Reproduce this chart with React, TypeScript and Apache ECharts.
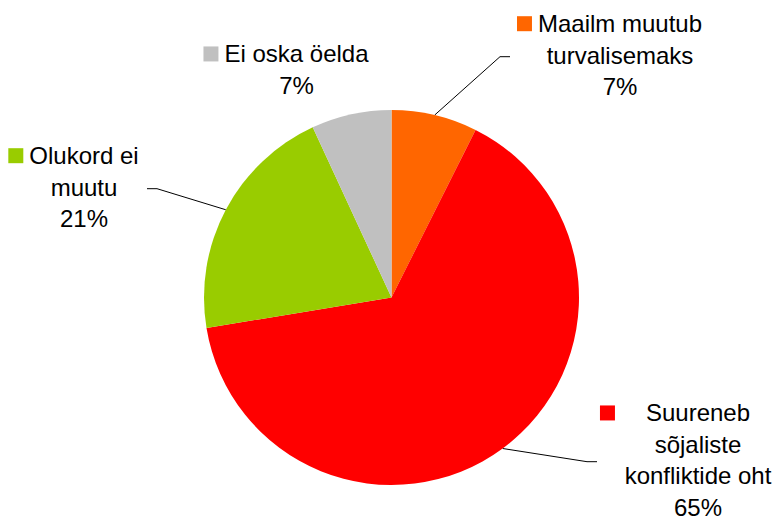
import React, { useEffect, useRef } from "react";
import * as echarts from "echarts";

const categories = [
  "Maailm muutub turvalisemaks",
  "Suureneb sõjaliste konfliktide oht",
  "Olukord ei muutu",
  "Ei oska öelda",
];
const labelLines = [
  ["Maailm muutub", "turvalisemaks"],
  ["Suureneb", "sõjaliste", "konfliktide oht"],
  ["Olukord ei", "muutu"],
  ["Ei oska öelda"],
];
const values = [7.4, 65.0, 20.7, 6.9];
const colors = ["#FF6600", "#FF0000", "#99CC00", "#C0C0C0"];

const FONT = "'Liberation Sans', Arial, Helvetica, sans-serif";
const LH = 31.5;
const KEY = 15;
// label layout: text center x, block middle y, gap between key and text, leader end x
const LAYOUT = [
  { x: 620, y: 55.2, gap: 6, lineEnd: 510, side: 1 },
  { x: 698, y: 460.2, gap: 31, lineEnd: 597, side: 1 },
  { x: 84, y: 187.2, gap: 6, lineEnd: 147, side: -1 },
  { x: 296.5, y: 69.7, gap: 6, lineEnd: null as number | null, side: 0 },
];

export default function App() {
  const ref = useRef<HTMLDivElement>(null);
  useEffect(() => {
    document.body.style.margin = "0";
    const chart = echarts.init(ref.current!, null, { renderer: "svg" });
    const rich: Record<string, any> = {
      t: { fontSize: 24, lineHeight: LH, color: "#000", fontFamily: FONT },
    };
    colors.forEach((c, i) => {
      rich["k" + i] = { width: KEY, height: KEY, backgroundColor: c, lineHeight: LH };
      rich["g" + i] = { width: LAYOUT[i].gap, lineHeight: LH };
      rich["s" + i] = { width: KEY + LAYOUT[i].gap, lineHeight: LH };
    });
    chart.setOption({
      animation: false,
      series: [
        {
          type: "pie",
          center: [391.5, 297.5],
          radius: 187.5,
          startAngle: 90,
          clockwise: true,
          avoidLabelOverlap: false,
          silent: true,
          emphasis: { disabled: true },
          itemStyle: { borderWidth: 0 },
          label: {
            show: true,
            position: "outside",
            width: 230,
            overflow: "none",
            align: "center",
            fontFamily: FONT,
            fontSize: 24,
            color: "#000",
            lineHeight: LH,
            rich,
            formatter: (p: any) => {
              const i = p.dataIndex;
              const ls = labelLines[i];
              const pct = Math.round(p.percent) + "%";
              const out = [`{k${i}|}{g${i}|}{t|${ls[0]}}{s${i}|}`];
              ls.slice(1).forEach((l) => out.push(`{t|${l}}`));
              out.push(`{t|${pct}}`);
              return out.join("\n");
            },
          },
          labelLine: {
            show: true,
            lineStyle: { color: "#000", width: 1 },
          },
          labelLayout: (params: any) => {
            const L = LAYOUT[params.dataIndex];
            const res: any = {
              x: L.x,
              y: L.y,
              align: "center",
              verticalAlign: "middle",
            };
            const pts = params.labelLinePoints;
            if (L.lineEnd != null && pts && pts[0]) {
              const ey = L.y + 1.5;
              res.labelLinePoints = [
                [pts[0][0], pts[0][1]],
                [L.lineEnd - L.side * 10, ey],
                [L.lineEnd, ey],
              ];
            }
            return res;
          },
          data: categories.map((name, i) => ({
            name,
            value: values[i],
            itemStyle: { color: colors[i] },
            labelLine: { show: i !== 3 },
          })),
        },
      ],
    });
    return () => chart.dispose();
  }, []);
  return <div ref={ref} style={{ width: 775, height: 518 }} />;
}
